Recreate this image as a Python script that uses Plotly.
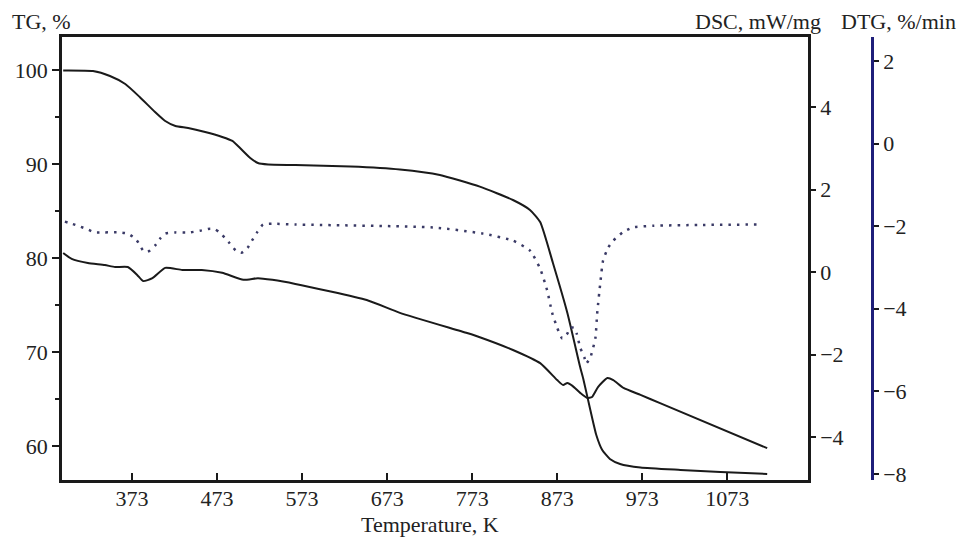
import plotly.graph_objects as go

# TG curve (left axis, %)
tg_temp = [292, 327, 347, 365, 382, 400, 412, 424, 439, 459, 479, 491, 500, 512, 521, 533,
           565, 630, 688, 735, 782, 821, 841, 853, 868, 885, 900, 904, 912, 919, 926, 935,
           947, 971, 1018, 1065, 1120]
tg_val = [99.95, 99.89, 99.36, 98.51, 97.13, 95.53, 94.57, 94.04, 93.83, 93.40, 92.87, 92.45,
          91.70, 90.64, 90.11, 89.95, 89.89, 89.73, 89.41, 88.83, 87.59, 86.17, 85.11, 83.83,
          79.47, 74.15, 68.40, 67.02, 63.83, 61.17, 59.57, 58.62, 58.09, 57.71, 57.45, 57.23,
          57.02]

# DSC curve (first right axis, mW/mg)
dsc_temp = [292, 302, 321, 341, 353, 368, 379, 386, 397, 412, 432, 455, 479, 504, 521, 538,
            565, 649, 688, 767, 782, 821, 853, 873, 880, 885, 891, 900, 908, 914, 921, 932,
            939, 951, 971, 994, 1120]
dsc_val = [0.46, 0.32, 0.22, 0.17, 0.12, 0.12, -0.07, -0.22, -0.15, 0.10, 0.05, 0.05, -0.02,
           -0.19, -0.15, -0.19, -0.29, -0.68, -0.99, -1.48, -1.58, -1.89, -2.21, -2.62, -2.74,
           -2.69, -2.76, -2.93, -3.05, -3.03, -2.79, -2.57, -2.62, -2.81, -2.98, -3.18, -4.27]

# DTG curve (second right axis, %/min)
dtg_temp = [294, 302, 312, 321, 329, 341, 359, 368, 377, 382, 386, 391, 394, 400, 406, 412,
            424, 441, 453, 465, 471, 476, 482, 488, 495, 502, 509, 514, 520, 527, 538, 565,
            727, 786, 821, 841, 853, 861, 867, 873, 879, 885, 888, 893, 896, 900, 905, 907,
            912, 918, 920, 924, 927, 933, 939, 950, 962, 986, 1041, 1108]
dtg_val = [-1.89, -1.94, -2.01, -2.08, -2.15, -2.15, -2.15, -2.18, -2.30, -2.45, -2.59, -2.62,
           -2.59, -2.47, -2.30, -2.18, -2.15, -2.15, -2.11, -2.06, -2.08, -2.15, -2.28, -2.42,
           -2.59, -2.64, -2.52, -2.35, -2.15, -1.96, -1.94, -1.96, -2.03, -2.18, -2.35, -2.59,
           -3.03, -3.54, -4.09, -4.46, -4.72, -4.60, -4.46, -4.46, -4.60, -4.94, -5.18, -5.33,
           -5.18, -4.70, -4.12, -3.32, -2.83, -2.52, -2.35, -2.15, -2.03, -1.99, -1.97, -1.96]

x_ticks = [373, 473, 573, 673, 773, 873, 973, 1073]
tg_ticks = [60, 70, 80, 90, 100]
dsc_ticks = [-4, -2, 0, 2, 4]
dtg_ticks = [-8, -6, -4, -2, 0, 2]

# page puts the figure 8px in from the top-left corner
OFF = 8
W, H = 967 - OFF, 540 - OFF
L, R, T, B = 62 - OFF, 95, 37 - OFF, 60
PW, PH = W - L - R, H - T - B


def px(x):
    # screen x -> paper
    return (x - OFF - L) / PW


def py(y):
    # screen y -> paper
    return (H - B - (y - OFF)) / PH


FONT = dict(family="Liberation Serif", size=22, color="#222222")
INK = "#1a1a1a"
NAVY = "#1f1f7a"

fig = go.Figure()
fig.add_trace(go.Scatter(x=tg_temp, y=tg_val, mode="lines",
                         line=dict(color=INK, width=2, shape="spline", smoothing=0.5)))
fig.add_trace(go.Scatter(x=dsc_temp, y=dsc_val, mode="lines", yaxis="y2",
                         line=dict(color=INK, width=2, shape="spline", smoothing=0.5)))
fig.add_trace(go.Scatter(x=dtg_temp, y=dtg_val, mode="lines", yaxis="y3",
                         line=dict(color="#3a3a66", width=2.5, dash="2.5px,6px",
                                   shape="spline", smoothing=0.5)))

fig.update_layout(
    width=W, height=H,
    margin=dict(l=L, r=R, t=T, b=B),
    paper_bgcolor="white", plot_bgcolor="white",
    showlegend=False,
    font=FONT,
    xaxis=dict(range=[290.6, 1168], domain=[0, px(808)], tickvals=x_ticks,
               showline=True, linecolor=INK, linewidth=2.5, mirror=True,
               ticks="inside", ticklen=7, tickwidth=2, tickcolor=INK,
               ticklabelstandoff=-3,
               showgrid=False, zeroline=False, automargin=False),
    yaxis=dict(range=[56.38, 103.51], tickvals=tg_ticks,
               showline=True, linecolor=INK, linewidth=2.5,
               ticks="outside", ticklen=7, tickwidth=2, tickcolor=INK,
               minor=dict(dtick=5, ticks="outside", ticklen=4, tickwidth=2, tickcolor=INK),
               showgrid=False, zeroline=False, automargin=False),
    yaxis2=dict(range=[-5.042, 5.697], tickvals=dsc_ticks, overlaying="y", side="right",
                anchor="x", showline=True, linecolor=INK, linewidth=2.5,
                ticks="outside", ticklen=5, tickwidth=2, tickcolor=INK,
                showgrid=False, zeroline=False, automargin=False),
    yaxis3=dict(range=[-8.146, 2.581], tickvals=dtg_ticks, overlaying="y", side="right",
                anchor="free", position=1.0, showline=True, linecolor=NAVY, linewidth=2.5,
                ticks="outside", ticklen=5, tickwidth=2, tickcolor=INK,
                showgrid=False, zeroline=False, automargin=False),
)

labels = [
    ("TG, %", px(10), "left"),
    ("DSC, mW/mg", px(758), "center"),
    ("DTG, %/min", px(898), "center"),
]
for text, x, anchor in labels:
    fig.add_annotation(text=text, x=x, y=py(21), xref="paper", yref="paper",
                       xanchor=anchor, yanchor="middle", showarrow=False, font=FONT)
fig.add_annotation(text="Temperature, K", x=px(430), y=py(524), xref="paper", yref="paper",
                   xanchor="center", yanchor="middle", showarrow=False, font=FONT)

fig.write_html("out.html")
